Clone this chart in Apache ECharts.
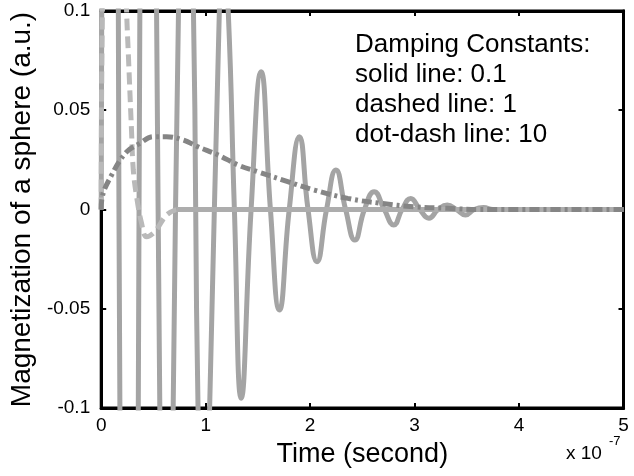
<!DOCTYPE html>
<html><head><meta charset="utf-8">
<script src="https://cdn.jsdelivr.net/npm/echarts@6/dist/echarts.min.js"></script>
<style>html,body{margin:0;padding:0;background:#fff}#c{width:634px;height:476px}</style>
</head><body><div id="c"></div>
<script>
// time in units of 1e-7 s, magnetization in a.u.
const xTickLabels = ['0', '1', '2', '3', '4', '5'];
const yTickLabels = ['-0.1', '-0.05', '0', '0.05', '0.1'];
const annotationLines = ['Damping Constants:', 'solid line: 0.1', 'dashed line: 1', 'dot-dash line: 10'];

// damping 0.1 (solid)
const solidLine = [
  [0, 0], [0.005, 0.1], [0.085, 0.85], [0.164, 0.1], [0.179, -0.1], [0.267, -0.63],
  [0.355, -0.1], [0.37, 0.1], [0.45, 0.46], [0.53, 0.1], [0.561, -0.1], [0.625, -0.34],
  [0.689, -0.1], [0.74, 0.1], [0.81, 0.25], [0.883, 0.1], [0.927, -0.1], [0.98, -0.18],
  [1.038, -0.1], [1.131, 0.1], [1.17, 0.13], [1.216, 0.1], [1.275, 0], [1.34, -0.0951],
  [1.435, 0], [1.531, 0.0694], [1.62, 0], [1.706, -0.0506], [1.80, 0], [1.897, 0.0367],
  [1.98, 0], [2.066, -0.0263], [2.157, 0], [2.247, 0.0199], [2.34, 0], [2.428, -0.0154],
  [2.52, 0], [2.613, 0.009], [2.71, 0], [2.80, -0.0078], [2.88, 0], [2.963, 0.0056],
  [3.05, 0], [3.137, -0.0044], [3.225, 0], [3.313, 0.0023], [3.40, 0], [3.487, -0.0028],
  [3.57, 0], [3.66, 0.001], [3.75, 0], [5, 0]
];
// damping 1 (dashed) transient part and settled part
const dashedLine = [
  [0, 0], [0.012, 0.1], [0.12, 0.32], [0.243, 0.1], [0.26, 0.078], [0.29, 0.04],
  [0.307, 0.02], [0.339, 0.0064], [0.386, -0.0068], [0.434, -0.0137], [0.513, -0.0112],
  [0.625, -0.0028], [0.72, 0]
];
const dashedSettled = [[0.72, 0], [5, 0]];
// damping 10 (dot-dash)
const dotDashLine = [
  [0, 0], [0.005, 0.0048], [0.1, 0.0174], [0.243, 0.029], [0.37, 0.0333], [0.498, 0.0367],
  [0.625, 0.0367], [0.784, 0.035], [0.927, 0.0316], [1.118, 0.0275], [1.31, 0.0224],
  [1.5, 0.019], [1.786, 0.014], [2.04, 0.0098], [2.36, 0.0056], [2.68, 0.0031],
  [2.99, 0.0014], [3.31, 0.0006], [3.63, 0], [5, 0]
];

const FONT = 'Liberation Sans, Arial, Helvetica, sans-serif';
const chart = echarts.init(document.getElementById('c'), null, {renderer: 'canvas'});

const axisLine = {show: true, onZero: false, lineStyle: {color: '#000', width: 3}};
const axisTick = {show: true, inside: true, length: 5, lineStyle: {color: '#000', width: 2}};

const option = {
  animation: false,
  backgroundColor: '#fff',
  grid: {left: 99.5, right: 10.5, top: 11, bottom: 68, containLabel: false,
    show: true, borderColor: '#000', borderWidth: 3, backgroundColor: 'transparent'},
  xAxis: [
    {
      type: 'value', min: 0, max: 5, interval: 1, position: 'bottom',
      axisLine: axisLine, axisTick: axisTick, splitLine: {show: false},
      axisLabel: {fontSize: 19, color: '#000', fontFamily: FONT, margin: 8,
        formatter: (v) => xTickLabels[Math.round(v)]},
      name: 'Time (second)', nameLocation: 'middle', nameGap: 33,
      nameTextStyle: {fontSize: 27, color: '#000', fontFamily: FONT}
    },
    {
      type: 'value', min: 0, max: 5, interval: 1, position: 'top',
      axisLine: axisLine, axisTick: axisTick, splitLine: {show: false},
      axisLabel: {show: false}
    }
  ],
  yAxis: [
    {
      type: 'value', min: -0.1, max: 0.1, interval: 0.05, position: 'left',
      axisLine: axisLine, axisTick: axisTick, splitLine: {show: false},
      axisLabel: {fontSize: 19, color: '#000', fontFamily: FONT, margin: 11,
        formatter: (v) => yTickLabels[Math.round((v + 0.1) / 0.05)]},
      name: 'Magnetization of a sphere (a.u.)', nameLocation: 'middle', nameGap: 54,
      nameTextStyle: {fontSize: 28, color: '#000', fontFamily: FONT}
    },
    {
      type: 'value', min: -0.1, max: 0.1, interval: 0.05, position: 'right',
      axisLine: axisLine, axisTick: axisTick, splitLine: {show: false},
      axisLabel: {show: false}
    }
  ],
  series: [
    {
      name: 'solid line: 0.1', type: 'line', data: solidLine, smooth: 0.5, showSymbol: false,
      clip: true, z: 2,
      lineStyle: {color: '#a4a4a4', width: 5, type: 'solid'}
    },
    {
      name: 'dashed line: 1', type: 'line', data: dashedLine, smooth: 0.4, showSymbol: false,
      clip: true, z: 3,
      lineStyle: {color: '#b9b9b9', width: 5, type: [12, 6]}
    },
    {
      name: 'dashed line: 1 (settled)', type: 'line', data: dashedSettled, showSymbol: false,
      clip: true, z: 3,
      lineStyle: {color: '#adadad', width: 5, type: 'solid'}
    },
    {
      name: 'dot-dash line: 10', type: 'line', data: dotDashLine, smooth: 0.4, showSymbol: false,
      clip: true, z: 4,
      lineStyle: {color: '#858585', width: 5, type: [10, 4, 3, 4]}
    }
  ],
  graphic: [
    {
      type: 'text', left: 355, top: 30, z: 10,
      style: {text: annotationLines.join('\n'), fontSize: 26, lineHeight: 30,
        fontFamily: FONT, fill: '#000'}
    },
    {
      type: 'text', left: 566, top: 444, z: 10,
      style: {text: 'x 10', fontSize: 19, fontFamily: FONT, fill: '#000'}
    },
    {
      type: 'text', left: 609, top: 435, z: 10,
      style: {text: '-7', fontSize: 13, fontFamily: FONT, fill: '#000'}
    }
  ]
};
chart.setOption(option);
</script>
</body></html>
